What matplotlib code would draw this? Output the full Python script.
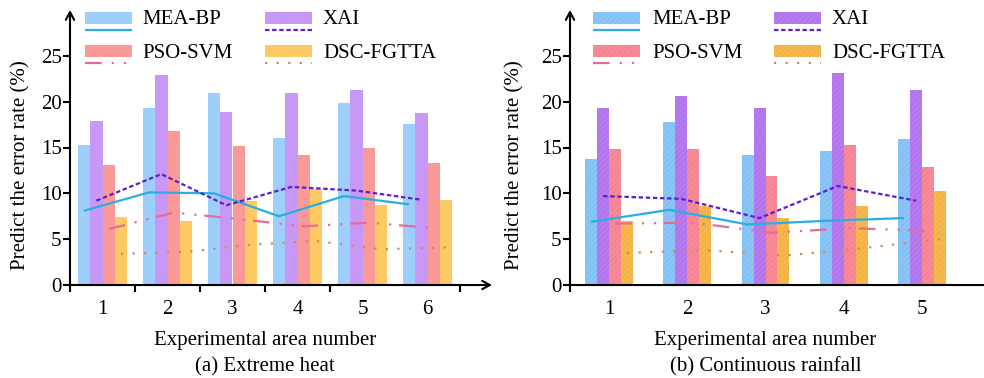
import numpy as np
import matplotlib
matplotlib.use("Agg")
import matplotlib.pyplot as plt
from matplotlib.patches import Rectangle
from matplotlib.lines import Line2D
import matplotlib.transforms as mtransforms

plt.rcParams['font.family'] = ['Liberation Serif', 'DejaVu Serif']
plt.rcParams['hatch.linewidth'] = 0.5

# ---------------- data ----------------
methods = ["MEA-BP", "XAI", "PSO-SVM", "DSC-FGTTA"]

areas_heat = [1, 2, 3, 4, 5, 6]
mea_bp_heat_bar = [15.3, 19.3, 20.9, 16.0, 19.9, 17.6]
xai_heat_bar = [17.9, 22.9, 18.9, 21.0, 21.3, 18.8]
pso_svm_heat_bar = [13.1, 16.8, 15.2, 14.2, 14.9, 13.3]
dsc_heat_bar = [7.4, 7.0, 9.2, 10.5, 8.7, 9.3]
mea_bp_heat_line = [8.1, 10.1, 10.0, 7.5, 9.7, 8.8]
xai_heat_line = [9.2, 12.1, 8.7, 10.7, 10.3, 9.3]
pso_svm_heat_line = [6.1, 7.9, 7.2, 6.4, 6.8, 6.2]
dsc_heat_line = [3.4, 3.6, 4.4, 4.8, 3.9, 4.1]

areas_rain = [1, 2, 3, 4, 5]
mea_bp_rain_bar = [13.8, 17.8, 14.2, 14.6, 15.9]
xai_rain_bar = [19.3, 20.6, 19.3, 23.1, 21.3]
pso_svm_rain_bar = [14.8, 14.8, 11.9, 15.3, 12.9]
dsc_rain_bar = [7.0, 8.6, 7.3, 8.6, 10.3]
mea_bp_rain_line = [6.9, 8.2, 6.6, 7.0, 7.3]
xai_rain_line = [9.7, 9.4, 7.3, 10.8, 9.2]
pso_svm_rain_line = [6.7, 6.8, 5.7, 6.2, 5.9]
dsc_rain_line = [3.5, 3.8, 3.2, 4.0, 5.0]

yticks = [0, 5, 10, 15, 20, 25]

# ---------------- styles ----------------
bar_cols_a = ["#9DCFFA", "#C898F7", "#FA9A98", "#FCC962"]
bar_cols_b = ["#8AC5F7", "#B67CEF", "#F88A98", "#F6B84C"]
hatch_cols_b = ["#7DB9EE", "#A86CE8", "#EE7C8C", "#EEAA3E"]
line_cols = ["#2AAEE0", "#5A20D0", "#E86A98", "#D0885A"]
line_styles = ["-", (0, (2.0, 1.2)), (0, (7.5, 4.5, 1.0, 4.5, 1.0, 3.5)), (0, (1.0, 4.2))]

W, H = 984, 378
fig = plt.figure(figsize=(W / 100, H / 100), dpi=100)

def px_rect(x0, y0, x1, y1):
    return [x0 / W, 1 - y1 / H, (x1 - x0) / W, (y1 - y0) / H]

FS = 15

def setup_axes(ax, areas, bars, lines, width, bar_cols, hatch, hatch_cols, xmax, arrow_x, title, minor):
    n = len(areas)
    x = np.array(areas, dtype=float)
    offs = (np.arange(4) - 1.5) * width
    for k in range(4):
        if hatch:
            ax.bar(x + offs[k], bars[k], width=width, color=bar_cols[k],
                   edgecolor=hatch_cols[k], linewidth=0, hatch='//////', zorder=2)
        else:
            ax.bar(x + offs[k], bars[k], width=width, color=bar_cols[k],
                   linewidth=0, zorder=2)
    for k in range(4):
        ax.plot(x + offs[k], lines[k], color=line_cols[k], lw=1.6,
                linestyle=line_styles[k], zorder=3, solid_capstyle='butt')
    ax.set_xlim(0.5, xmax)
    ax.set_ylim(0, 30)
    for s in ['top', 'right']:
        ax.spines[s].set_visible(False)
    ax.spines['left'].set_visible(False)
    if arrow_x:
        ax.spines['bottom'].set_visible(False)
        ax.annotate('', xy=(1, 0), xytext=(0, 0), xycoords='axes fraction',
                    arrowprops=dict(arrowstyle='->,head_length=0.55,head_width=0.3',
                                    lw=1.5, color='black', shrinkA=0, shrinkB=0))
    else:
        ax.spines['bottom'].set_linewidth(1.5)
    ax.annotate('', xy=(0, 1), xytext=(0, 0), xycoords='axes fraction',
                arrowprops=dict(arrowstyle='->,head_length=0.55,head_width=0.3',
                                lw=1.5, color='black', shrinkA=0, shrinkB=0))
    ax.set_yticks(yticks)
    ax.set_yticklabels([str(v) for v in yticks], fontsize=FS)
    ax.tick_params(axis='y', direction='out', length=5, width=1.5, pad=1)
    ax.set_xticks(x)
    ax.set_xticklabels([str(a) for a in areas], fontsize=FS)
    ax.tick_params(axis='x', which='major', length=0, pad=11)
    ax.set_xticks(minor, minor=True)
    ax.tick_params(axis='x', which='minor', direction='out', length=5, width=1.5)
    ax.set_ylabel("Predict the error rate (%)", fontsize=FS)
    trans = mtransforms.blended_transform_factory(ax.transData, ax.transAxes)
    cx = (0.5 + n + 0.5) / 2
    ax.text(cx, -0.20, "Experimental area number", transform=trans,
            ha='center', va='center', fontsize=FS)
    ax.text(cx, -0.298, title, transform=trans, ha='center', va='center', fontsize=FS)

ax1 = fig.add_axes(px_rect(70, 10, 492, 285))
setup_axes(ax1, areas_heat,
           [mea_bp_heat_bar, xai_heat_bar, pso_svm_heat_bar, dsc_heat_bar],
           [mea_bp_heat_line, xai_heat_line, pso_svm_heat_line, dsc_heat_line],
           0.19, bar_cols_a, False, None, 0.5 + 422 / 65, True, "(a) Extreme heat",
           [0.5, 1.5, 2.5, 3.5, 4.5, 6.5])
ax1.yaxis.set_label_coords(-0.093, 0.436)

ax2 = fig.add_axes(px_rect(570, 10, 984, 285))
setup_axes(ax2, areas_rain,
           [mea_bp_rain_bar, xai_rain_bar, pso_svm_rain_bar, dsc_rain_bar],
           [mea_bp_rain_line, xai_rain_line, pso_svm_rain_line, dsc_rain_line],
           0.153, bar_cols_b, True, hatch_cols_b, 0.5 + 414 / 78.2, False,
           "(b) Continuous rainfall", [0.5])
ax2.yaxis.set_label_coords(-0.111, 0.436)

# ---------------- legends (manual, in pixel coordinates) ----------------
def fx(x):
    return x / W

def fy(y):
    return 1 - y / H

def legend_entry(k, px0, py0, tx, bar_col, hatch, hatch_col):
    pw, ph = 47, 12
    r = Rectangle((fx(px0), fy(py0 + ph)), pw / W, ph / H, transform=fig.transFigure,
                  facecolor=bar_col, edgecolor=hatch_col if hatch else 'none',
                  linewidth=0, hatch='//////' if hatch else None)
    fig.add_artist(r)
    ln = Line2D([fx(px0), fx(px0 + pw)], [fy(py0 + 18), fy(py0 + 18)],
                transform=fig.transFigure, color=line_cols[k], lw=1.6,
                linestyle=line_styles[k], solid_capstyle='butt')
    fig.add_artist(ln)
    fig.text(fx(tx), fy(py0 + 8), methods[k], fontsize=FS, ha='left', va='center')

for k, (dx, row) in enumerate([(0, 0), (1, 0), (0, 1), (1, 1)]):
    py = 12 if row == 0 else 45
    px = 85 if dx == 0 else 265
    tx = 142 if dx == 0 else 323
    legend_entry(k, px, py, tx, bar_cols_a[k], False, None)
    px = 593 if dx == 0 else 774
    tx = 652 if dx == 0 else 832
    legend_entry(k, px, py, tx, bar_cols_b[k], True, hatch_cols_b[k])

fig.savefig("out.png", dpi=100)
